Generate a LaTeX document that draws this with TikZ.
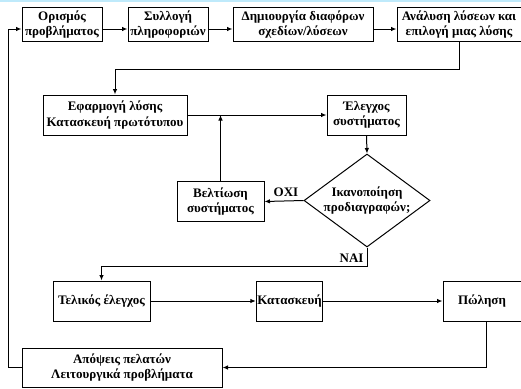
\documentclass[tikz,border=0pt]{standalone}
\usepackage{fontspec}
\setmainfont{Liberation Serif}
\usetikzlibrary{shapes.geometric}
\usetikzlibrary{arrows.meta}

\tikzset{
  stagebox/.style={draw, line width=1pt, align=center, inner sep=1pt,
    font=\bfseries\fontsize{13}{15.5}\selectfont},
  decision/.style={draw, line width=1pt, diamond, aspect=1.35, align=center, inner sep=0pt,
    font=\bfseries\fontsize{13}{15.5}\selectfont},
  flow/.style={line width=1pt, -{Latex[length=5.5pt,width=4.5pt]}},
  answer/.style={font=\bfseries\fontsize{13}{15.5}\selectfont}
}

\begin{document}
\begin{tikzpicture}[x=1pt,y=-1pt]
        \useasboundingbox (0,0) rectangle (521,388);
        \fill[cyan!25!white] (0,0) rectangle (521,2);
        % boxes of the first row
        \node[stagebox, minimum width=80pt, minimum height=34pt] (orismos) at (62,24.5) {Ορισμός\\προβλήματος};
        \node[stagebox, minimum width=80pt, minimum height=34pt] (syllogi) at (168,24.5) {Συλλογή\\πληροφοριών};
        \node[stagebox, minimum width=140pt, minimum height=34pt] (dimiourgia) at (303,24.5) {Δημιουργία διαφόρων\\σχεδίων/λύσεων};
        \node[stagebox, minimum width=124pt, minimum height=34pt] (analysi) at (459,24.5) {Ανάλυση λύσεων και\\επιλογή μιας λύσης};
        % prototype and test loop
        \node[stagebox, minimum width=144pt, minimum height=40pt] (efarmogi) at (115,115) {Εφαρμογή λύσης\\Κατασκευή πρωτότυπου};
        \node[stagebox, minimum width=79pt, minimum height=40pt] (elegxos) at (366.5,115) {Έλεγχος\\συστήματος};
        \node[stagebox, minimum width=87pt, minimum height=40pt] (veltiosi) at (220.5,201.5) {Βελτίωση\\συστήματος};
        \node[decision, minimum width=126pt, minimum height=93pt] (prodiagrafes) at (367,200.5) {Ικανοποίηση\\προδιαγραφών;};
        % last row
        \node[stagebox, minimum width=97pt, minimum height=40pt] (telikos) at (101.5,301) {Τελικός έλεγχος};
        \node[stagebox, minimum width=65pt, minimum height=40pt] (kataskeui) at (289.5,301) {Κατασκευή};
        \node[stagebox, minimum width=78pt, minimum height=40pt] (polisi) at (482,301) {Πώληση};
        \node[stagebox, minimum width=200pt, minimum height=39pt] (apopseis) at (122,367.5) {Απόψεις πελατών\\Λειτουργικά προβλήματα};
        % arrows
        \draw[flow] ([yshift=-4.5pt]orismos.east) -- ([yshift=-4.5pt]syllogi.west);
        \draw[flow] ([yshift=-4.5pt]syllogi.east) -- ([yshift=-4.5pt]dimiourgia.west);
        \draw[flow] ([yshift=-4.5pt]dimiourgia.east) -- ([yshift=-4.5pt]analysi.west);
        \draw[flow] (analysi.south) -- ++(0,27) -| (efarmogi.north);
        \draw[flow] (efarmogi.east) -- (elegxos.west);
        \draw[flow] (veltiosi.north) -- (veltiosi.north |- efarmogi.east);
        \draw[flow] (elegxos.south) -- (prodiagrafes.north);
        \draw[flow] (prodiagrafes.west) -- node[answer, above, pos=0.45] {ΟΧΙ} (veltiosi.east);
        \draw[flow] (prodiagrafes.south) -- ++(0,19) coordinate (nai) -| (telikos.north);
        \node[answer, above left] (naiLabel) at (nai) {ΝΑΙ};
        \draw[flow] (telikos.east) -- (kataskeui.west);
        \draw[flow] (kataskeui.east) -- (polisi.west);
        \draw[flow] ([xshift=4pt]polisi.south) |- (apopseis.east);
        \draw[flow] (apopseis.west) -- ++(-13,0) |- ([yshift=-4.5pt]orismos.west);
\end{tikzpicture}
\end{document}
